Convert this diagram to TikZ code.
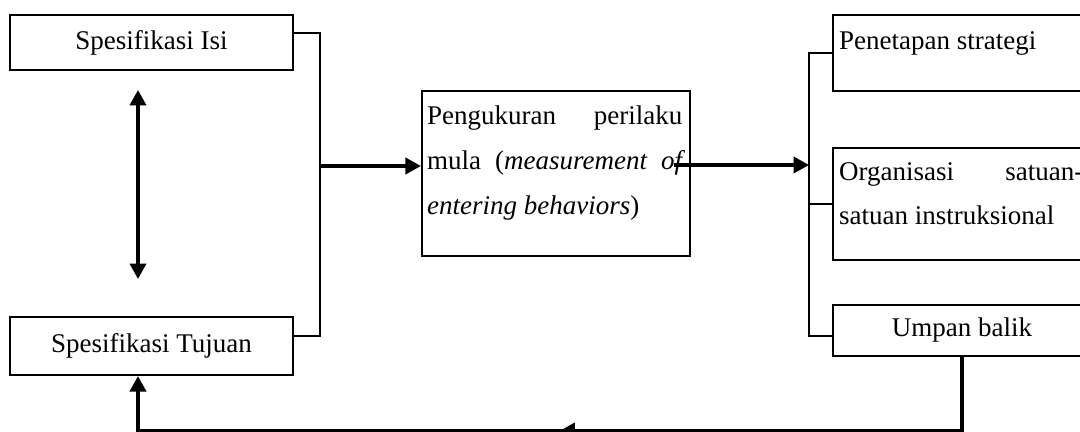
\documentclass[tikz,border=0pt]{standalone}
\usepackage{fontspec}
\setmainfont{Liberation Serif}
\usetikzlibrary{arrows.meta,decorations.markings}
\newcommand{\huruf}{\fontsize{19.2}{31.9}\selectfont}
\tikzset{
  ujung/.tip={Triangle[length=11pt,width=11.5pt]},
  kotak/.style={
    draw, rectangle, line width=1.5pt, inner sep=0pt, font=\huruf
  },
  teks/.style={
    inner sep=0pt, font=\huruf
  },
  garis/.style={line width=1.5pt},
  panah/.style={line width=2.4pt, -ujung}
}
\hyphenpenalty=10000
\tolerance=10000

\begin{document}
\begin{tikzpicture}[x=0.025cm, y=-0.025cm]
   \useasboundingbox (0,0) rectangle (1080,432);
   \clip (0,0) rectangle (1080,432);

   % kiri
   \node[kotak, minimum width=7.075cm, minimum height=1.375cm] (isi) at (151.5,42.5) {Spesifikasi Isi};
   \node[kotak, minimum width=7.075cm, minimum height=1.45cm] (tujuan) at (151.5,346) {Spesifikasi Tujuan};
   \coordinate (atas) at (138,90);
   \coordinate (bawah) at (138,279);
   \draw[panah, ujung-ujung] (atas) -- (bawah);

   % tengah
   \node[kotak, minimum width=6.7cm, minimum height=4.125cm] (ukur) at (556,173.5) {};
   \node[teks, text width=6.375cm, align=justify, anchor=north west] (ukurteks)
      at ([shift={(6,15.5)}]ukur.north west)
      {Pengukuran perilaku mula (\textit{measurement of entering behaviors})};

   % kanan
   \node[kotak, minimum width=6.45cm, minimum height=1.9cm] (strategi) at (962,53) {};
   \node[teks, anchor=north west] (strategiteks) at ([shift={(7,17)}]strategi.north west) {Penetapan strategi};
   \node[kotak, minimum width=6.45cm, minimum height=2.8cm] (organisasi) at (962,204) {};
   \node[teks, text width=6.1cm, align=justify, anchor=north west] (organisasiteks)
      at ([shift={(7,15)}]organisasi.north west)
      {Organisasi satuan-satuan instruksional};
   \node[kotak, minimum width=6.45cm, minimum height=1.275cm] (umpan) at (962,330.5) {Umpan balik};

   % penghubung
   \coordinate (kiri) at (320,166);
   \coordinate (kanan) at (809,165);
   \coordinate (balik) at (138,431);
   \draw[garis] ([yshift=0.2375cm]isi.east) -| (kiri) |- ([yshift=0.25cm]tujuan.east);
   \draw[panah] (kiri) -- (kiri -| ukur.west);
   \draw[panah] ([shift={(-17,-8.5)}]ukur.east) -- (kanan);
   \draw[garis] (strategi.west) -| (kanan) |- ([yshift=-0.1375cm]umpan.west);
   \draw[garis] (organisasi.west) -- (organisasi.west -| kanan);
   \draw[panah, postaction={decorate},
      decoration={markings, mark=at position 0.5 with {\arrow{ujung}}}]
      (umpan.south) |- (balik) -- (balik |- tujuan.south);
\end{tikzpicture}
\end{document}
